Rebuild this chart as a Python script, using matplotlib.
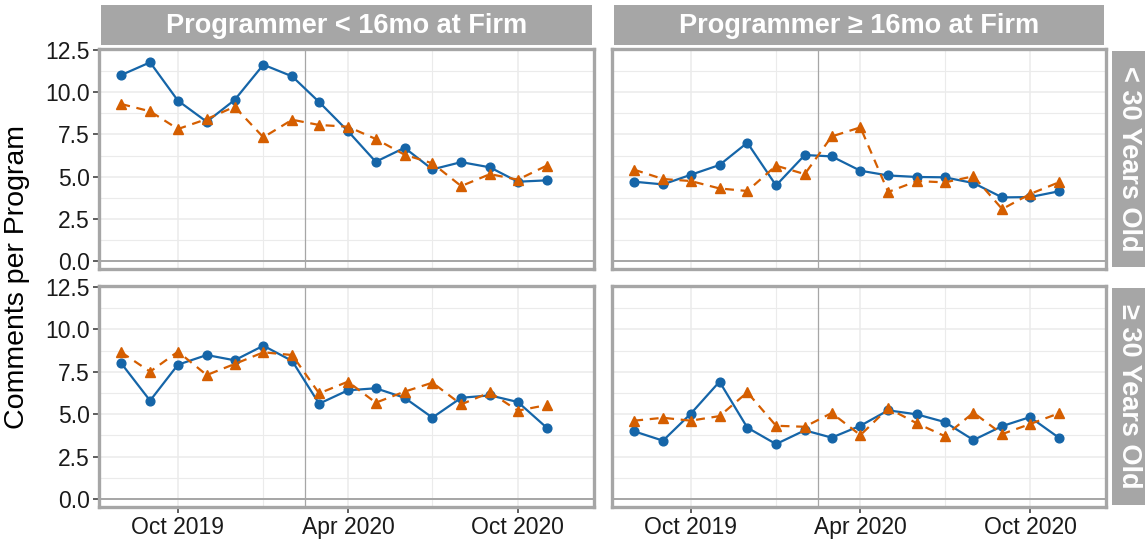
import numpy as np
import pandas as pd
import matplotlib
matplotlib.use("Agg")
import matplotlib.pyplot as plt
import matplotlib.dates as mdates

plt.rcParams['font.family'] = ['Liberation Sans', 'DejaVu Sans']

months = pd.date_range("2019-08-01", periods=16, freq="MS")
event_date = pd.Timestamp("2020-02-15")

col_labels = ["Programmer < 16mo at Firm", "Programmer \u2265 16mo at Firm"]
row_labels = ["< 30 Years Old", "\u2265 30 Years Old"]

# blue (solid, circles)
young_new_a = [11.02, 11.77, 9.50, 8.25, 9.54, 11.63, 10.94, 9.42, 7.70, 5.88, 6.71, 5.43, 5.86, 5.55, 4.70, 4.78]
young_old_a = [4.70, 4.54, 5.11, 5.69, 7.01, 4.48, 6.28, 6.20, 5.35, 5.07, 4.98, 4.96, 4.62, 3.77, 3.79, 4.13]
older_new_a = [8.00, 5.80, 7.92, 8.49, 8.18, 9.04, 8.14, 5.62, 6.41, 6.53, 5.97, 4.80, 5.97, 6.11, 5.72, 4.21]
older_old_a = [3.99, 3.44, 5.03, 6.92, 4.21, 3.24, 4.05, 3.62, 4.32, 5.23, 4.99, 4.54, 3.48, 4.30, 4.83, 3.62]

# orange (dashed, triangles)
young_new_b = [9.30, 8.87, 7.82, 8.41, 9.14, 7.33, 8.37, 8.06, 7.96, 7.23, 6.30, 5.79, 4.44, 5.15, 4.82, 5.65]
young_old_b = [5.41, 4.86, 4.74, 4.30, 4.15, 5.65, 5.15, 7.38, 7.92, 4.09, 4.74, 4.66, 5.02, 3.08, 3.97, 4.66]
older_new_b = [8.65, 7.51, 8.69, 7.31, 7.96, 8.65, 8.49, 6.23, 6.92, 5.68, 6.33, 6.86, 5.58, 6.29, 5.21, 5.54]
older_old_b = [4.62, 4.79, 4.62, 4.89, 6.29, 4.32, 4.26, 5.07, 3.77, 5.35, 4.46, 3.71, 5.09, 3.83, 4.42, 5.05]

series_a = [[young_new_a, young_old_a], [older_new_a, older_old_a]]
series_b = [[young_new_b, young_old_b], [older_new_b, older_old_b]]

blue = "#1565A8"
orange = "#D55E00"
border = "#A6A6A6"
grid = "#EBEBEB"

W, H = 1145, 546
fig = plt.figure(figsize=(W / 100, H / 100), dpi=100)

def box(x0, y0, x1, y1):
    return [x0 / W, 1 - y1 / H, (x1 - x0) / W, (y1 - y0) / H]

cols = [(99, 594), (612, 1106)]
rows = [(49, 269), (286, 507)]

xlim = (pd.Timestamp("2019-07-08"), pd.Timestamp("2020-12-22"))
ylim = (-0.47, 12.56)

for r, (y0, y1) in enumerate(rows):
    for c, (x0, x1) in enumerate(cols):
        ax = fig.add_axes(box(x0, y0, x1, y1))
        ax.set_xlim(xlim)
        ax.set_ylim(ylim)
        ax.set_yticks(np.arange(0, 12.6, 2.5))
        ax.set_yticks(np.arange(1.25, 12.6, 2.5), minor=True)
        ax.xaxis.set_major_locator(mdates.MonthLocator(bymonth=[4, 10]))
        ax.xaxis.set_minor_locator(mdates.MonthLocator(bymonth=[1, 7]))
        ax.xaxis.set_major_formatter(mdates.DateFormatter("%b %Y"))
        ax.grid(which="major", color=grid, lw=1.1, zorder=0)
        ax.grid(which="minor", color=grid, lw=0.8, zorder=0)
        ax.set_axisbelow(True)
        for s in ax.spines.values():
            s.set_color(border)
            s.set_linewidth(2.4)
        ax.tick_params(which="minor", length=0)
        ax.tick_params(which="major", length=4.5, width=1.1, color="#333333",
                       labelsize=16.5, labelcolor="#1A1A1A", pad=2)
        if c != 0:
            ax.tick_params(axis="y", which="major", length=0, labelleft=False)
        if r != 1:
            ax.tick_params(axis="x", which="major", length=0, labelbottom=False)

        ax.axhline(0, color=border, lw=1.4, zorder=1)
        ax.axvline(event_date, color=border, lw=0.9, zorder=1)

        ax.plot(months, series_a[r][c], color=blue, lw=1.6, marker="o",
                markersize=6.3, zorder=3)
        ax.plot(months, series_b[r][c], color=orange, lw=1.6, ls=(0, (4, 3)),
                marker="^", markersize=7.2, zorder=3)

# column strips
for c, (x0, x1) in enumerate(cols):
    sax = fig.add_axes(box(x0 + 2, 5, x1 - 2, 45))
    sax.set_facecolor(border)
    sax.set_xticks([]); sax.set_yticks([])
    for s in sax.spines.values():
        s.set_visible(False)
    sax.text(0.5, 0.47, col_labels[c], color="white", fontsize=19.5,
             fontweight="bold", ha="center", va="center", transform=sax.transAxes)

# row strips
for r, (y0, y1) in enumerate(rows):
    sax = fig.add_axes(box(1112, y0 + 2, 1145, y1 - 2))
    sax.set_facecolor(border)
    sax.set_xticks([]); sax.set_yticks([])
    for s in sax.spines.values():
        s.set_visible(False)
    sax.text(0.5, 0.5, row_labels[r], color="white", fontsize=19.5,
             fontweight="bold", ha="center", va="center", rotation=-90,
             transform=sax.transAxes)

fig.text(17 / W, 1 - 277 / H, "Comments per Program", rotation=90,
         fontsize=20.5, ha="center", va="center", color="black")

fig.savefig("out.png", dpi=100)
